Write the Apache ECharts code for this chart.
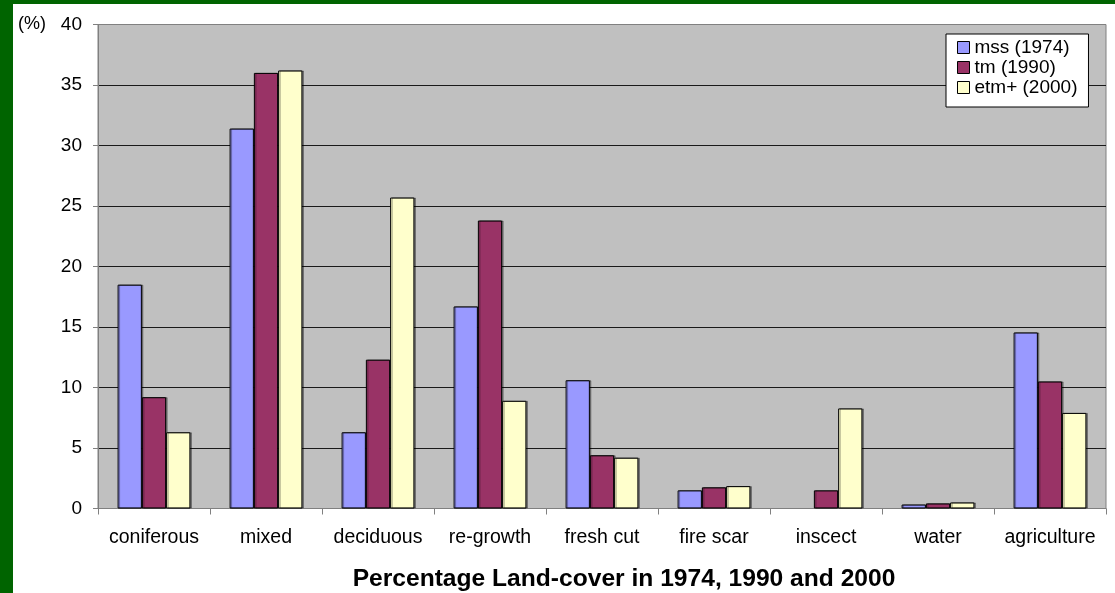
<!DOCTYPE html>
<html>
<head>
<meta charset="utf-8">
<script src="https://cdn.jsdelivr.net/npm/echarts@6/dist/echarts.min.js"></script>
<style>
html,body{margin:0;padding:0;background:#fff;}
#c{position:absolute;left:0;top:0;width:1115px;height:593px;}
.gl{position:absolute;left:0;top:0;width:13px;height:593px;background:#006400;}
.gt{position:absolute;left:0;top:0;width:1115px;height:4px;background:#006400;}
</style>
</head>
<body>
<div id="c"></div>
<div class="gl"></div>
<div class="gt"></div>
<script>
const categories = ['coniferous','mixed','deciduous','re-growth','fresh cut','fire scar','inscect','water','agriculture'];
const seriesNames = ['mss (1974)','tm (1990)','etm+ (2000)'];
const mss1974 = [18.5, 31.4, 6.3, 16.7, 10.6, 1.5, 0, 0.33, 14.55];
const tm1990  = [9.2, 36.0, 12.3, 23.8, 4.4, 1.75, 1.5, 0.42, 10.5];
const etm2000 = [6.3, 36.2, 25.7, 8.9, 4.2, 1.85, 8.27, 0.5, 7.9];
const colors = ['#9999ff','#993366','#ffffcc'];

const font = '"Liberation Sans", Arial, sans-serif';
const chart = echarts.init(document.getElementById('c'), null, {renderer:'canvas'});
const mk = (name, data, color) => ({
  name, type:'bar', data: data.map(v => v === 0 ? '-' : v),
  barGap:'0%', barCategoryGap:'35%',
  itemStyle:{color, borderColor:'#000', borderWidth:1,
    shadowColor:'rgba(0,0,0,0.35)', shadowOffsetX:1.5, shadowOffsetY:0, shadowBlur:0},
  emphasis:{disabled:true}
});
chart.setOption({
  animation:false,
  textStyle:{fontFamily:font},
  title:{
    text:'Percentage Land-cover in 1974, 1990 and 2000',
    left:619, top:562, textAlign:'center',
    textStyle:{fontFamily:font, fontSize:24.6, fontWeight:'bold', color:'#000'}
  },
  legend:{
    orient:'vertical', left:946, top:34,
    backgroundColor:'#fff', borderColor:'#000', borderWidth:1,
    padding:[4,11,10,11], itemGap:1, itemWidth:12, itemHeight:12,
    icon:'rect',
    itemStyle:{borderColor:'#000', borderWidth:1, shadowColor:'transparent', shadowOffsetX:0},
    textStyle:{fontFamily:font, fontSize:19, color:'#000', lineHeight:19, padding:[0,0,0,0]},
    data:seriesNames
  },
  grid:{left:98, top:24.5, right:9, bottom:84.5, show:true,
        backgroundColor:'#c0c0c0', borderColor:'#808080', borderWidth:1, containLabel:false},
  graphic:[{type:'text', left:18, top:15,
    style:{text:'(%)', font:'18px ' + font, fill:'#000'}}],
  xAxis:{
    type:'category', data:categories, boundaryGap:true,
    axisLine:{lineStyle:{color:'#808080', width:1}},
    axisTick:{show:true, alignWithLabel:false, length:6, lineStyle:{color:'#808080'}},
    axisLabel:{fontFamily:font, fontSize:19.5, color:'#000', margin:19, interval:0}
  },
  yAxis:{
    type:'value', min:0, max:40, interval:5,
    axisLine:{show:true, lineStyle:{color:'#808080', width:1}},
    axisTick:{show:true, length:5, lineStyle:{color:'#808080'}},
    axisLabel:{fontFamily:font, fontSize:19, color:'#000', margin:16},
    splitLine:{show:true, showMaxLine:false, lineStyle:{color:'#1a1a1a', width:1}}
  },
  series:[mk(seriesNames[0], mss1974, colors[0]), mk(seriesNames[1], tm1990, colors[1]), mk(seriesNames[2], etm2000, colors[2])]
});
</script>
</body>
</html>
